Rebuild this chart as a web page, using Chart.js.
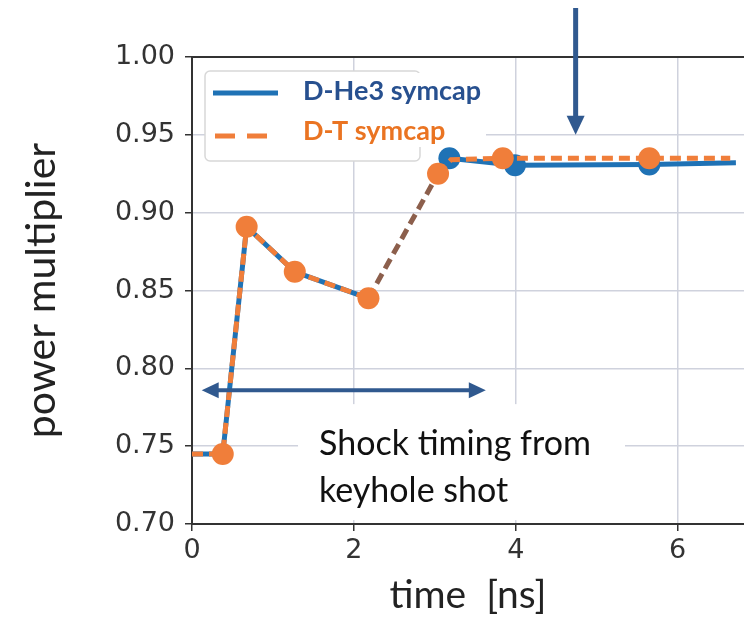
<!DOCTYPE html>
<html>
<head>
<meta charset="utf-8">
<script src="https://cdn.jsdelivr.net/npm/chart.js@4.4.1/dist/chart.umd.min.js"></script>
<style>
  html, body { margin: 0; padding: 0; background: #fff; }
  #wrap { width: 744px; height: 628px; }
</style>
</head>
<body>
<div id="wrap"><canvas id="power-chart" width="744" height="628"></canvas></div>
<script>
const ctxPower = document.getElementById('power-chart').getContext('2d');

// values
const heTime = [0, 0.38, 0.675, 1.27, 2.18, 3.18, 3.99, 5.65, 6.72];
const heMult = [0.745, 0.745, 0.891, 0.862, 0.845, 0.935, 0.9305, 0.931, 0.932];
const dtTime = [0, 0.38, 0.675, 1.27, 2.18, 3.04, 3.2, 3.84, 5.65, 6.65];
const dtMult = [0.745, 0.745, 0.891, 0.862, 0.845, 0.925, 0.934, 0.935, 0.935, 0.935];
const xTicks = [0, 2, 4, 6];
const yTicks = [0.70, 0.75, 0.80, 0.85, 0.90, 0.95, 1.00];

// annotations (data units)
const shockArrow = { from: 0.12, to: 3.63, level: 0.786 };
const markArrow = { time: 4.74, tip: 0.95 };
const noteBox = { x0: 1.31, x1: 5.35, y0: 0.7025, y1: 0.777 };
const noteLines = ['Shock timing from', 'keyhole shot'];

const blue = '#1f72b5';
const orange = '#f07e3a';
const brown = '#8c5f4c';
const arrowBlue = '#30598f';

const overlay = {
    id: 'overlay',
    beforeDatasetsDraw(chart) {
        const { ctx, scales: { x, y } } = chart;
        // white box behind the note
        ctx.save();
        ctx.fillStyle = '#fff';
        ctx.fillRect(x.getPixelForValue(noteBox.x0), y.getPixelForValue(noteBox.y1),
            x.getPixelForValue(noteBox.x1) - x.getPixelForValue(noteBox.x0),
            y.getPixelForValue(noteBox.y0) - y.getPixelForValue(noteBox.y1));
        ctx.restore();
    },
    afterDatasetsDraw(chart) {
        const { ctx, chartArea, scales: { x, y } } = chart;
        ctx.save();

        // top spine
        ctx.strokeStyle = '#333';
        ctx.lineWidth = 2;
        ctx.beginPath();
        ctx.moveTo(chartArea.left - 1, chartArea.top);
        ctx.lineTo(chartArea.right, chartArea.top);
        ctx.stroke();

        // note text
        ctx.fillStyle = '#111';
        ctx.font = '34px Lato';
        ctx.textBaseline = 'alphabetic';
        const tx = x.getPixelForValue(noteBox.x0) + 21;
        ctx.fillText(noteLines[0], tx, 455);
        ctx.fillText(noteLines[1], tx, 502);

        // double arrow
        const ay = y.getPixelForValue(shockArrow.level);
        const ax0 = x.getPixelForValue(shockArrow.from);
        const ax1 = x.getPixelForValue(shockArrow.to);
        ctx.strokeStyle = arrowBlue;
        ctx.fillStyle = arrowBlue;
        ctx.lineWidth = 4;
        ctx.beginPath();
        ctx.moveTo(ax0 + 10, ay);
        ctx.lineTo(ax1 - 10, ay);
        ctx.stroke();
        ctx.beginPath();
        ctx.moveTo(ax0, ay); ctx.lineTo(ax0 + 17, ay - 8); ctx.lineTo(ax0 + 17, ay + 8); ctx.closePath();
        ctx.fill();
        ctx.beginPath();
        ctx.moveTo(ax1, ay); ctx.lineTo(ax1 - 17, ay - 8); ctx.lineTo(ax1 - 17, ay + 8); ctx.closePath();
        ctx.fill();

        // down arrow
        const vx = x.getPixelForValue(markArrow.time);
        const vy = y.getPixelForValue(markArrow.tip);
        ctx.lineWidth = 5;
        ctx.beginPath();
        ctx.moveTo(vx, 8);
        ctx.lineTo(vx, vy - 14);
        ctx.stroke();
        ctx.beginPath();
        ctx.moveTo(vx, vy); ctx.lineTo(vx - 9, vy - 19); ctx.lineTo(vx + 9, vy - 19); ctx.closePath();
        ctx.fill();

        // legend
        const lx = chartArea.left + 13;
        const ly = chartArea.top + 14;
        ctx.fillStyle = '#fff';
        ctx.strokeStyle = '#d8d8d8';
        ctx.lineWidth = 1.5;
        ctx.beginPath();
        ctx.roundRect(lx, ly, 215, 90, 5);
        ctx.fill();
        ctx.stroke();

        ctx.lineWidth = 5;
        ctx.strokeStyle = blue;
        ctx.beginPath();
        ctx.moveTo(lx + 8, ly + 22);
        ctx.lineTo(lx + 73, ly + 22);
        ctx.stroke();
        ctx.strokeStyle = orange;
        ctx.setLineDash([20, 12]);
        ctx.beginPath();
        ctx.moveTo(lx + 10, ly + 65);
        ctx.lineTo(lx + 73, ly + 65);
        ctx.stroke();
        ctx.setLineDash([]);

        ctx.fillStyle = '#fff';
        ctx.fillRect(lx + 96, ly + 2, 185, 74);
        ctx.font = 'bold 27px Lato';
        ctx.textBaseline = 'middle';
        ctx.fillStyle = '#27508f';
        ctx.fillText('D-He3 symcap', lx + 98, ly + 20);
        ctx.fillStyle = '#ea7422';
        ctx.fillText('D-T symcap', lx + 98, ly + 60);

        ctx.restore();
    }
};

const powerChart = new Chart(ctxPower, {
    type: 'line',
    data: {
        datasets: [{
            label: 'D-He3 symcap',
            data: heTime.map((t, i) => ({ x: t, y: heMult[i] })),
            borderColor: blue,
            backgroundColor: blue,
            borderWidth: 5,
            pointRadius: ctx => (ctx.dataIndex >= 5 && ctx.dataIndex <= 7) ? 11 : 0,
            pointBorderWidth: 0,
            pointBackgroundColor: blue,
            order: 2,
            segment: {
                borderColor: ctx => ctx.p0DataIndex === 4 ? 'rgba(0,0,0,0)' : undefined
            }
        }, {
            label: 'D-T symcap',
            data: dtTime.map((t, i) => ({ x: t, y: dtMult[i] })),
            borderColor: orange,
            backgroundColor: orange,
            borderWidth: 5,
            borderDash: [11, 6],
            pointRadius: ctx => (ctx.dataIndex === 0 || ctx.dataIndex === 6 || ctx.dataIndex === 9) ? 0 : 11,
            pointBorderWidth: 0,
            pointBackgroundColor: orange,
            order: 1,
            segment: {
                borderColor: ctx => ctx.p0DataIndex === 4 ? brown : undefined
            }
        }]
    },
    options: {
        responsive: false,
        animation: false,
        layout: { padding: { top: 57, right: 0, left: 0, bottom: 0 } },
        scales: {
            x: {
                type: 'linear',
                min: 0,
                max: 6.82,
                afterBuildTicks: s => { s.ticks = xTicks.map(v => ({ value: v })); },
                afterFit: s => { s.height = 104; },
                ticks: {
                    color: '#333',
                    font: { family: 'DejaVu Sans', size: 27 },
                    padding: 4
                },
                grid: { color: '#cfd2dd', lineWidth: 1.5, tickLength: 7, tickColor: '#333' },
                border: { color: '#333', width: 2 },
                title: {
                    display: true,
                    text: 'time  [ns]',
                    color: '#222',
                    font: { family: 'Lato', size: 39 },
                    padding: { bottom: 9 }
                }
            },
            y: {
                min: 0.70,
                max: 1.00,
                afterBuildTicks: s => { s.ticks = yTicks.map(v => ({ value: v })); },
                afterFit: s => { s.width = 192; },
                ticks: {
                    color: '#333',
                    font: { family: 'DejaVu Sans', size: 27 },
                    padding: 10,
                    callback: v => v.toFixed(2)
                },
                grid: { color: '#cfd2dd', lineWidth: 1.5, tickLength: 7, tickColor: '#333' },
                border: { color: '#333', width: 2 },
                title: {
                    display: true,
                    text: 'power multiplier',
                    color: '#222',
                    font: { family: 'Lato', size: 41 },
                    padding: { top: 17 }
                }
            }
        },
        plugins: {
            legend: { display: false },
            tooltip: { enabled: false }
        }
    },
    plugins: [overlay]
});
</script>
</body>
</html>
